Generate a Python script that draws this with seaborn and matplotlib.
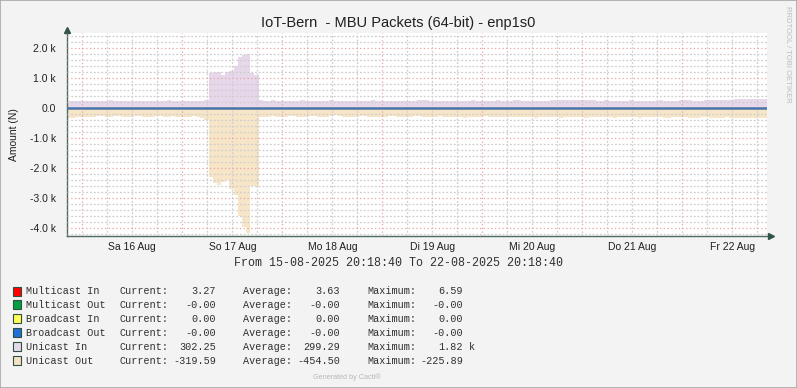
import numpy as np
import pandas as pd
import matplotlib
matplotlib.use("Agg")
import matplotlib.pyplot as plt
import seaborn as sns
from matplotlib.patches import Rectangle
from matplotlib.ticker import FixedLocator, FuncFormatter

# ---------------- data (hourly samples from 15-08-2025 20:18:40) ----------------
unicast_in = [
    250, 245, 248, 240, 255, 250, 246, 252, 240, 238, 262, 255, 250, 248, 245, 240, 250,
    258, 252, 246, 243, 250, 248, 255, 260, 250, 245, 248, 240, 246, 252, 250, 255, 270,
    1190, 1200, 1220, 1100, 1210, 1250, 1400, 1700, 1760, 1820, 1160, 1100,
    260, 250, 255, 262, 248, 252, 258, 250, 246, 255, 262, 250, 245, 252, 248,
    250, 256, 262, 258, 250, 245, 250, 255, 248, 252, 250, 258, 262, 255, 248, 250, 246, 252, 255, 250,
    248, 252, 258, 262, 265, 260, 255, 250, 248, 252, 255, 258, 250, 246, 250, 255, 262, 258, 252, 248,
    250, 255, 260, 258, 252, 250, 262, 268, 258, 252, 250, 255, 248, 252, 258, 265, 270, 272, 268, 270,
    275, 270, 265, 268, 272, 265, 258, 255, 262, 258, 252, 250, 255, 258, 262, 255, 250, 252, 248, 255,
    258, 262, 255, 250, 252, 258, 262, 265, 260, 255, 250, 258, 262, 268, 272, 275, 270, 265, 280, 295, 300,
    310, 312, 315, 310, 312, 308, 302,
]
unicast_out = [
    -310, -315, -305, -290, -280, -275, -285, -270, -265, -280, -290, -270, -260, -275, -285, -280, -270,
    -265, -275, -290, -285, -270, -265, -280, -275, -270, -285, -290, -280, -275, -270, -300, -330, -390,
    -2300, -2500, -2550, -2450, -2400, -2700, -2900, -3600, -3950, -4150, -2600, -2600,
    -300, -285, -275, -270, -280, -290, -275, -265, -270, -280, -285, -275, -270, -265, -280,
    -290, -285, -270, -226, -260, -275, -280, -290, -285, -270, -265, -275, -280, -290, -285, -275, -270, -265, -280, -285,
    -290, -280, -270, -265, -275, -285, -290, -280, -270, -275, -280, -285, -290, -300, -310, -295, -285, -280, -275, -270,
    -280, -290, -300, -305, -295, -285, -280, -275, -285, -295, -300, -310, -305, -300, -295, -290, -300, -310, -305, -300,
    -295, -300, -305, -310, -300, -290, -285, -295, -300, -305, -310, -300, -295, -290, -300, -305, -310, -305, -300, -295,
    -300, -305, -310, -315, -305, -300, -295, -305, -310, -315, -310, -305, -300, -310, -315, -320, -310, -305, -315, -320, -325,
    -330, -335, -330, -340, -335, -325, -320,
]
broadcast_out = [0.0] * len(unicast_in)

day_labels = ["Sa 16 Aug", "So 17 Aug", "Mo 18 Aug", "Di 19 Aug", "Mi 20 Aug", "Do 21 Aug", "Fr 22 Aug"]
y_ticks = [-4000, -3000, -2000, -1000, 0, 1000, 2000]
y_tick_labels = ["-4.0 k", "-3.0 k", "-2.0 k", "-1.0 k", "0.0", "1.0 k", "2.0 k"]

legend_names = ["Multicast In", "Multicast Out", "Broadcast In", "Broadcast Out", "Unicast In", "Unicast Out"]
legend_colors = ["#FF0000", "#00A040", "#FFFF55", "#2070D8", "#E6D7EA", "#F5E1C4"]
legend_current = ["3.27", "-0.00", "0.00", "-0.00", "302.25", "-319.59"]
legend_average = ["3.63", "-0.00", "0.00", "-0.00", "299.29", "-454.50"]
legend_maximum = ["6.59", "-0.00", "0.00", "-0.00", "1.82", "-225.89"]
legend_max_unit = ["", "", "", "", "k", ""]

title = "IoT-Bern  - MBU Packets (64-bit) - enp1s0"
span_text = "From 15-08-2025 20:18:40 To 22-08-2025 20:18:40"

# ---------------- style ----------------
sns.set_theme(style="white")
plt.rcParams["font.family"] = ["Liberation Sans", "DejaVu Sans"]

W, H = 797, 388
fig = plt.figure(figsize=(W / 100, H / 100), dpi=100, facecolor="#F3F3F3")
L, R, T, B = 67, 767, 33, 236
ax = fig.add_axes([L / W, 1 - B / H, (R - L) / W, (B - T) / H])
ax.set_facecolor("#FFFFFF")

hours = np.arange(len(unicast_in))
df = pd.DataFrame({"h": hours, "uin": unicast_in, "uout": unicast_out, "bout": broadcast_out})

ax.fill_between(df["h"], df["uin"], 0, step="post", color="#E6D7EA", linewidth=0, zorder=1)
ax.fill_between(df["h"], df["uout"], 0, step="post", color="#F7E5C8", linewidth=0, zorder=1)
sns.lineplot(data=df, x="h", y="bout", color="#4A74A8", linewidth=1.8, ax=ax, zorder=4,
             drawstyle="steps-post", legend=False)

ax.set_xlim(0, 168)
ax.set_ylim(-4257, 2510)

midnight0 = 3 + 41 / 60 + 20 / 3600
midnights = [midnight0 + 24 * k for k in range(7)]
sixes = [midnight0 + 6 * k for k in range(28) if k % 4 != 0 and midnight0 + 6 * k < 168]
noons = [midnight0 + 12 + 24 * k for k in range(7)]

ax.xaxis.set_major_locator(FixedLocator(midnights))
ax.xaxis.set_minor_locator(FixedLocator(sixes))
ax.xaxis.set_major_formatter(FuncFormatter(lambda v, p: ""))


def minor_fmt(v, p):
    for n, lab in zip(noons, day_labels):
        if abs(v - n) < 0.01:
            return lab
    return ""


ax.xaxis.set_minor_formatter(FuncFormatter(minor_fmt))

ax.yaxis.set_major_locator(FixedLocator(y_ticks))
ax.yaxis.set_minor_locator(FixedLocator([v for v in range(-4200, 2600, 200) if v % 1000 != 0]))
ax.set_yticklabels(y_tick_labels)

ax.grid(which="major", color="#EBA3A3", linestyle=(0, (1, 2)), linewidth=0.9, zorder=2)
ax.grid(which="minor", color="#CFCFCF", linestyle=(0, (1.5, 1.5)), linewidth=0.9, zorder=2)
ax.set_axisbelow(False)

ax.tick_params(axis="both", which="major", length=3, width=0.8, color="#D08080",
               labelsize=7.5, labelcolor="#202020", direction="out")
ax.tick_params(axis="both", which="minor", length=2, width=0.8, color="#A0A0A0",
               labelsize=7.5, labelcolor="#202020", direction="out")
ax.tick_params(axis="x", which="both", pad=2)
ax.tick_params(axis="y", which="both", pad=5)

for s in ["top", "right"]:
    ax.spines[s].set_visible(False)
for s in ["left", "bottom"]:
    ax.spines[s].set_color("#4D6A5C")
    ax.spines[s].set_linewidth(1.0)
ax.plot([0], [1.015], marker="^", color="#2F5545", markersize=4, transform=ax.transAxes, clip_on=False)
ax.plot([1.006], [0], marker=">", color="#2F5545", markersize=4, transform=ax.transAxes, clip_on=False)

ax.set_xlabel("")
ax.set_ylabel("Amount (N)", fontsize=7.5, color="#202020", labelpad=8)

# ---------------- texts ----------------
def fx(x):
    return x / W


def fy(y):
    return 1 - y / H


fig.text(fx(398), fy(23), title, ha="center", va="center", fontsize=10.5, color="#202020")
fig.text(fx(787), fy(6), "RRDTOOL / TOBI OETIKER", rotation=270, ha="center", va="top",
         fontsize=5.5, color="#BDBDBD")
mono = ["Liberation Mono", "DejaVu Sans Mono"]
fig.text(fx(398), fy(263), span_text, ha="center", va="center", fontsize=8.4,
         family=mono, color="#303030")

for i, name in enumerate(legend_names):
    yc = 291 + i * 13.95
    fig.patches.append(Rectangle((fx(13), fy(yc + 4.5)), 8 / W, 9 / H, transform=fig.transFigure,
                                 facecolor=legend_colors[i], edgecolor="#2F4F3F", linewidth=0.8))
    kw = dict(va="center", fontsize=7.3, family=mono, color="#303030")
    fig.text(fx(26), fy(yc), name, ha="left", **kw)
    fig.text(fx(119), fy(yc), "Current:", ha="left", **kw)
    fig.text(fx(216), fy(yc), legend_current[i], ha="right", **kw)
    fig.text(fx(243), fy(yc), "Average:", ha="left", **kw)
    fig.text(fx(340), fy(yc), legend_average[i], ha="right", **kw)
    fig.text(fx(367), fy(yc), "Maximum:", ha="left", **kw)
    fig.text(fx(463), fy(yc), legend_maximum[i], ha="right", **kw)
    if legend_max_unit[i]:
        fig.text(fx(469), fy(yc), legend_max_unit[i], ha="left", **kw)

fig.text(fx(347), fy(377), "Generated by Cacti\u00ae", ha="center", va="center", fontsize=5.2,
         color="#B8B8B8")

fig.patches.append(Rectangle((0, 0), 1, 1, transform=fig.transFigure, facecolor="none",
                             edgecolor="#A8A8A8", linewidth=1.2))

fig.savefig("out.png", dpi=100, facecolor=fig.get_facecolor())
